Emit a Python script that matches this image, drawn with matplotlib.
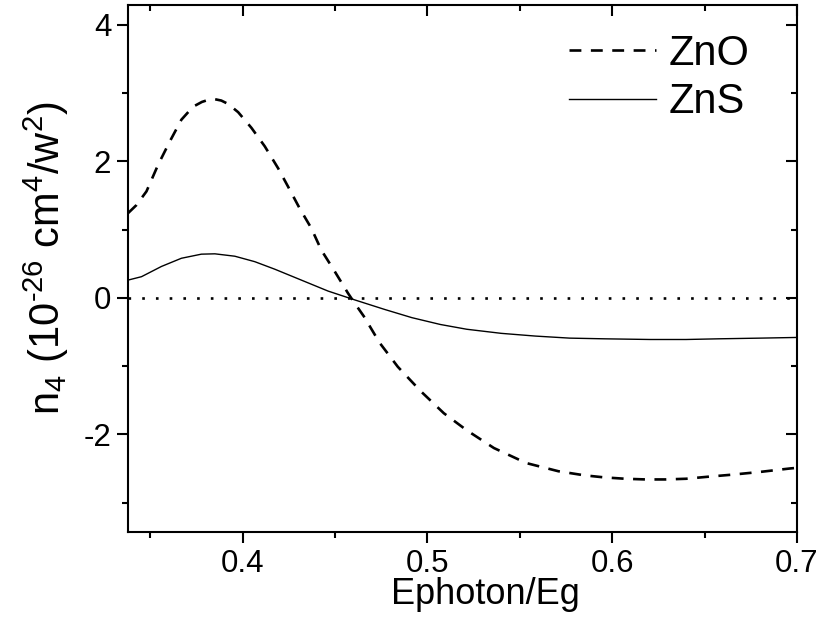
import matplotlib
matplotlib.use("Agg")
from matplotlib import pyplot as plt
from matplotlib.ticker import MultipleLocator

plt.rcParams['font.family'] = ['Liberation Sans', 'DejaVu Sans']
plt.rcParams['mathtext.fontset'] = 'custom'
plt.rcParams['mathtext.rm'] = 'Liberation Sans'
plt.rcParams['mathtext.it'] = 'Liberation Sans:italic'
plt.rcParams['axes.unicode_minus'] = False

# ZnO curve
zno_x = [0.338, 0.3426, 0.348, 0.3543, 0.3606, 0.3669, 0.3732, 0.3780, 0.3814, 0.385,
         0.3885, 0.3922, 0.3976, 0.4048, 0.412, 0.4192, 0.4246, 0.4309, 0.4372, 0.4426,
         0.4498, 0.457, 0.4607, 0.4656, 0.4742, 0.484, 0.4965, 0.5089, 0.5213, 0.536,
         0.5535, 0.5709, 0.5850, 0.5957, 0.6070, 0.618, 0.629, 0.640, 0.652, 0.665,
         0.680, 0.696, 0.700]
zno_y = [1.24, 1.36, 1.56, 1.95, 2.29, 2.61, 2.80, 2.87, 2.90, 2.91,
         2.89, 2.84, 2.72, 2.49, 2.22, 1.90, 1.63, 1.31, 1.02, 0.70,
         0.39, 0.07, -0.08, -0.27, -0.66, -1.01, -1.37, -1.69, -1.94, -2.20,
         -2.42, -2.54, -2.60, -2.63, -2.65, -2.66, -2.66, -2.65, -2.62, -2.59,
         -2.55, -2.50, -2.49]

# ZnS curve
zns_x = [0.338, 0.3453, 0.3561, 0.3669, 0.3777, 0.385, 0.3958, 0.4066, 0.4174, 0.4318,
         0.4462, 0.4607, 0.4769, 0.4916, 0.5070, 0.5213, 0.5400, 0.5585, 0.5770, 0.5957,
         0.6206, 0.640, 0.6576, 0.680, 0.700]
zns_y = [0.26, 0.31, 0.46, 0.58, 0.64, 0.645, 0.61, 0.53, 0.42, 0.26,
         0.10, -0.03, -0.17, -0.29, -0.39, -0.46, -0.52, -0.56, -0.59, -0.60,
         -0.61, -0.61, -0.60, -0.59, -0.58]

fig = plt.figure(figsize=(8.19, 6.32), dpi=100)
ax = fig.add_axes([128/819, 1-532/632, (797-128)/819, (532-5)/632])

# zero reference line
ax.axhline(0, color='black', lw=1.9, linestyle=(0, (1, 4.2)))
ax.plot(zno_x, zno_y, color='black', lw=1.9, linestyle=(0, (4.5, 3.6)), label='ZnO')
ax.plot(zns_x, zns_y, color='black', lw=1.0, label='ZnS')

ax.set_xlim(0.338, 0.7)
ax.set_ylim(-3.43, 4.29)
ax.xaxis.set_major_locator(MultipleLocator(0.1))
ax.xaxis.set_minor_locator(MultipleLocator(0.05))
ax.yaxis.set_major_locator(MultipleLocator(2))
ax.yaxis.set_minor_locator(MultipleLocator(1))

for s in ax.spines.values():
    s.set_linewidth(1.5)
ax.tick_params(which='both', top=True, right=True, width=1.5, labelsize=22.5, pad=4)
ax.tick_params(which='major', length=8)
ax.tick_params(which='minor', length=4.5)
# ticks point inward on top and right
for t in ax.xaxis.get_major_ticks() + ax.xaxis.get_minor_ticks():
    t.tick2line.set_marker(3)
for t in ax.yaxis.get_major_ticks() + ax.yaxis.get_minor_ticks():
    t.tick2line.set_marker(0)

ax.set_xlabel('Ephoton/Eg', fontsize=26)
ax.xaxis.set_label_coords(0.534, -0.085)
ax.set_ylabel(r'n$_4$ (10$^{\text{-26}}$ cm$^4$/w$^2$)', fontsize=30)
ax.yaxis.set_label_coords(-0.085, 0.52)

ax.legend(loc='upper right', bbox_to_anchor=(0.985, 1.016), frameon=False,
          fontsize=30, handlelength=2.1, handletextpad=0.3, labelspacing=0.2)

fig.savefig('out.png', dpi=100)
